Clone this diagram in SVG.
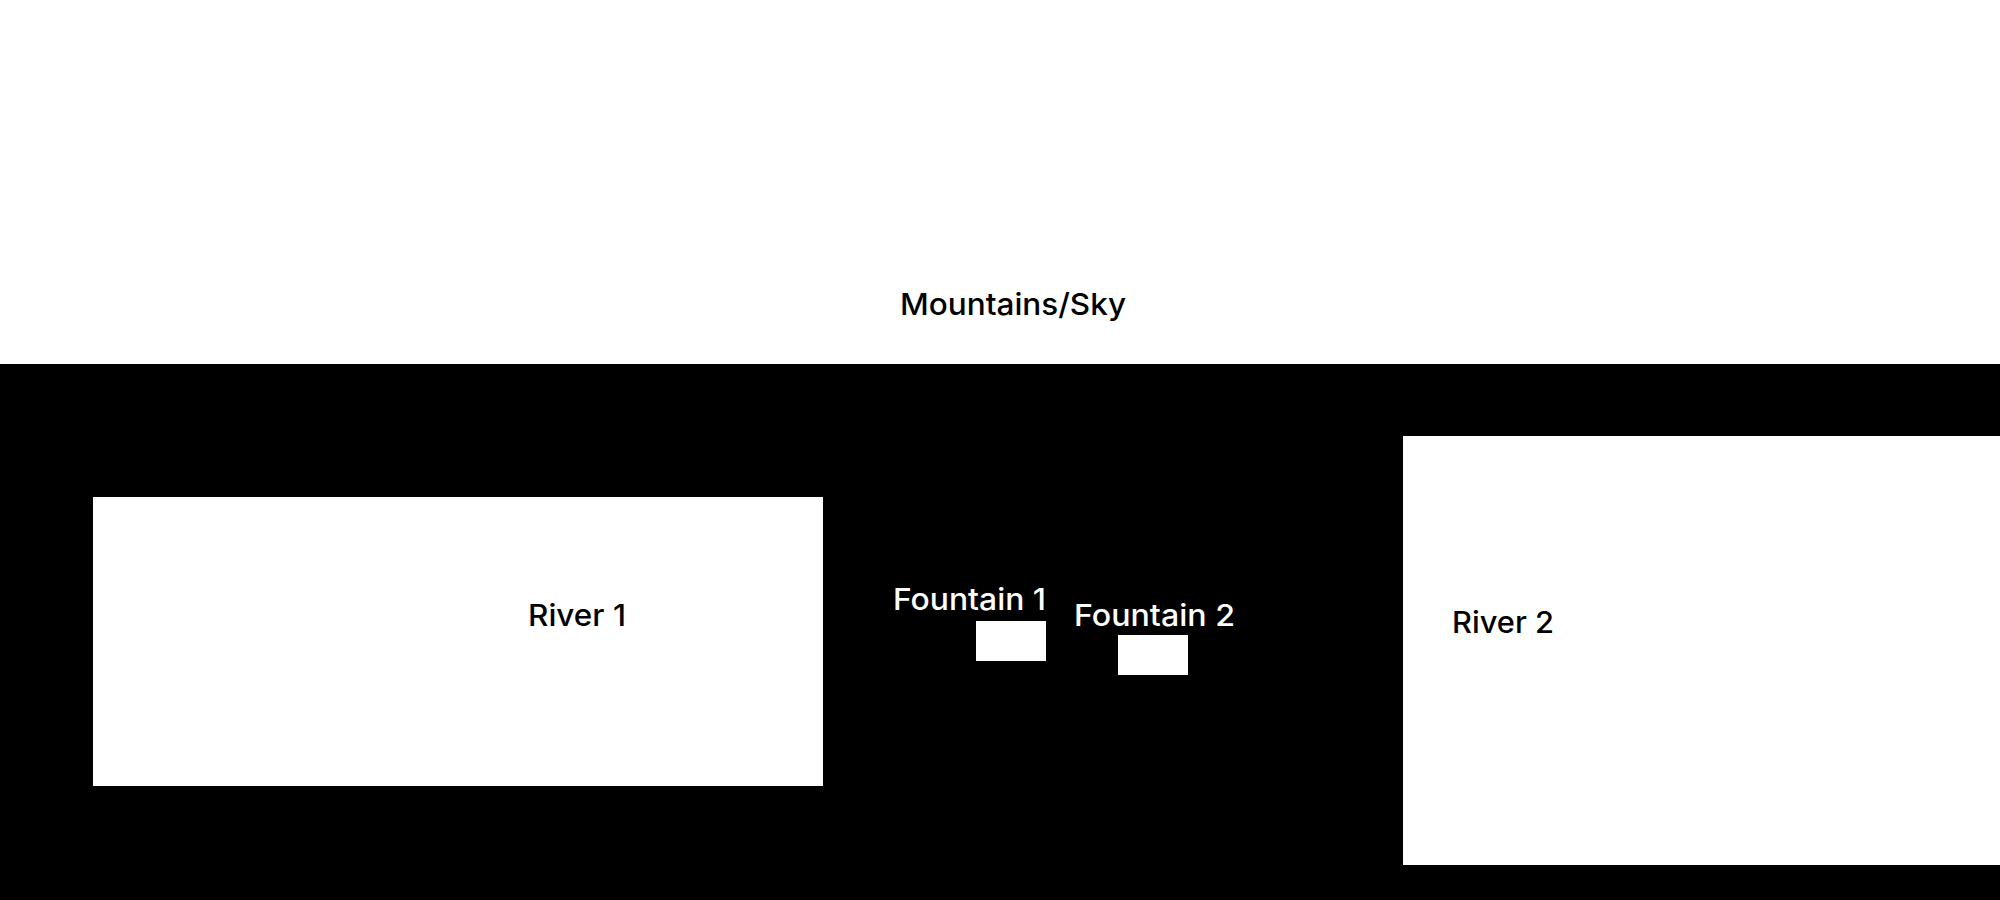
<svg xmlns="http://www.w3.org/2000/svg" width="2000" height="900" viewBox="0 0 2000 900">
<style>
.lbl{font-family:Inter,"Open Sans","Liberation Sans",sans-serif;font-size:30px;font-weight:500}
.dark{fill:#000}
.light{fill:#fff}
</style>
<rect x="0" y="0" width="2000" height="900" fill="#fff"/>
<g id="sky">
<text class="lbl dark" x="900" y="315" textLength="226" lengthAdjust="spacingAndGlyphs">Mountains/Sky</text>
</g>
<rect id="ground" x="0" y="364" width="2000" height="536" fill="#000"/>
<g id="river1">
<rect x="93" y="497" width="730" height="289" fill="#fff"/>
<text class="lbl dark" x="528" y="626" textLength="98" lengthAdjust="spacingAndGlyphs">River 1</text>
</g>
<g id="fountain1">
<rect x="976" y="621" width="70" height="40" fill="#fff"/>
<text class="lbl light" x="893" y="610" textLength="153" lengthAdjust="spacingAndGlyphs">Fountain 1</text>
</g>
<g id="fountain2">
<rect x="1118" y="635" width="70" height="40" fill="#fff"/>
<text class="lbl light" x="1074" y="626" textLength="161" lengthAdjust="spacingAndGlyphs">Fountain 2</text>
</g>
<g id="river2">
<rect x="1403" y="436" width="597" height="429" fill="#fff"/>
<text class="lbl dark" x="1452" y="633" textLength="102" lengthAdjust="spacingAndGlyphs">River 2</text>
</g>
<g id="connectors"/>
</svg>
